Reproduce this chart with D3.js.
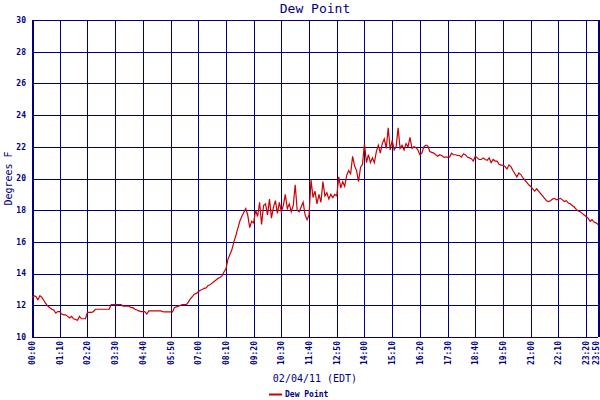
<!DOCTYPE html>
<html>
<head>
<meta charset="utf-8">
<script src="https://cdn.jsdelivr.net/npm/d3@7"></script>
<style>
  body { margin: 0; background: #fff; }
  svg { display: block; }
  text { font-family: "DejaVu Sans Mono", monospace; fill: #000080; }
</style>
</head>
<body>
<svg id="chart" width="600" height="400"></svg>
<script>
// readings every 5 minutes, starting 00:00
const stepMinutes = 5;
const dewPoint = [
  12.5, 12.6, 12.55, 12.35, 12.6, 12.5, 12.3, 12.1, 11.95, 11.85, 11.75, 11.7,
  11.5, 11.6, 11.6, 11.45, 11.4, 11.4, 11.3, 11.2, 11.3, 11.15, 11.1, 11.05,
  11.3, 11.15, 11.15, 11.15, 11.55, 11.55, 11.55, 11.6, 11.75, 11.75, 11.75, 11.75,
  11.75, 11.75, 11.75, 11.75, 12.05, 12.05, 12.05, 12.05, 12.05, 12.05, 11.95, 11.95,
  11.95, 11.95, 11.85, 11.85, 11.75, 11.7, 11.65, 11.6, 11.6, 11.6, 11.45, 11.65,
  11.65, 11.65, 11.65, 11.65, 11.65, 11.65, 11.6, 11.58, 11.58, 11.58, 11.58, 11.58,
  11.86, 11.9, 11.95, 12.0, 12.04, 12.04, 12.04, 12.2, 12.4, 12.55, 12.7, 12.75,
  12.85, 12.95, 13.0, 13.07, 13.1, 13.25, 13.3, 13.4, 13.5, 13.6, 13.7, 13.75,
  13.85, 14.1, 14.3, 14.9, 15.2, 15.5, 16.0, 16.4, 16.85, 17.3, 17.6, 17.85,
  18.1, 17.7, 16.9, 17.3, 17.2, 18.0, 17.6, 18.5, 17.1, 18.3, 18.4, 17.7,
  18.7, 17.5, 18.2, 18.6, 17.8, 18.5, 17.9, 18.3, 19.0, 18.1, 18.4, 17.9,
  18.3, 19.6, 18.0, 17.9, 18.2, 18.5, 17.7, 17.4, 17.7, 19.9, 18.8, 19.2,
  18.4, 19.0, 18.5, 19.8, 18.9, 19.1, 18.7, 19.0, 18.8, 19.0, 18.9, 20.1,
  19.4, 19.8, 19.5, 20.2, 20.5, 20.3, 21.4, 20.8, 20.5, 19.8, 20.7, 20.9,
  22.2, 21.0, 21.5, 21.0, 21.3, 21.0, 21.7, 22.1, 21.6, 22.2, 22.5, 21.9,
  23.2, 21.8, 22.4, 21.8, 22.0, 23.2, 21.9, 22.1, 21.8, 22.2, 22.0, 22.6,
  21.9, 22.0, 21.95, 21.8, 21.5, 21.6, 22.0, 22.1, 22.05, 21.7, 21.65, 21.6,
  21.5, 21.4, 21.5, 21.45, 21.35, 21.35, 21.35, 21.35, 21.6, 21.5, 21.5, 21.45,
  21.45, 21.35, 21.55, 21.5, 21.35, 21.3, 21.25, 21.1, 21.4, 21.3, 21.2, 21.2,
  21.3, 21.2, 21.15, 21.3, 21.0, 21.2, 21.1, 21.1, 20.9, 20.85, 20.85, 20.75,
  20.6, 20.85, 20.75, 20.5, 20.3, 20.1, 20.35, 20.25, 20.05, 19.9, 19.75, 19.6,
  19.5, 19.35, 19.2, 19.35, 19.2, 19.05, 18.9, 18.75, 18.6, 18.55, 18.6, 18.7,
  18.75, 18.65, 18.7, 18.75, 18.65, 18.55, 18.6, 18.45, 18.4, 18.3, 18.2, 18.05,
  17.95, 17.9, 17.8, 17.7, 17.6, 17.5, 17.3, 17.4, 17.25, 17.2, 17.1
];

const xTickLabels = ["00:00", "01:10", "02:20", "03:30", "04:40", "05:50", "07:00",
  "08:10", "09:20", "10:30", "11:40", "12:50", "14:00", "15:10", "16:20", "17:30",
  "18:40", "19:50", "21:00", "22:10", "23:20", "23:50"];
const yTicks = [10, 12, 14, 16, 18, 20, 22, 24, 26, 28, 30];

const svg = d3.select("#chart");
const plotLeft = 32, plotRight = 598, plotTop = 20, plotBottom = 337;
const navy = "#000080";

const toMinutes = (s) => +s.slice(0, 2) * 60 + +s.slice(3);
const x = d3.scaleLinear().domain([0, toMinutes("23:50")]).range([plotLeft, plotRight]);
const y = d3.scaleLinear().domain([10, 30]).range([plotBottom, plotTop]);

// title
svg.append("text")
  .attr("x", (plotLeft + plotRight) / 2)
  .attr("y", 13)
  .attr("text-anchor", "middle")
  .style("font-size", "13px")
  .text("Dew Point");

// grid
const grid = svg.append("g").attr("shape-rendering", "crispEdges").attr("stroke", navy);

grid.selectAll(".hline")
  .data(yTicks)
  .join("line")
  .attr("x1", plotLeft).attr("x2", plotRight)
  .attr("y1", (d) => Math.round(y(d)) + 0.5)
  .attr("y2", (d) => Math.round(y(d)) + 0.5)
  .attr("stroke-width", 1);

grid.selectAll(".vline")
  .data(xTickLabels)
  .join("line")
  .attr("x1", (d) => Math.round(x(toMinutes(d))) + 0.5)
  .attr("x2", (d) => Math.round(x(toMinutes(d))) + 0.5)
  .attr("y1", plotTop).attr("y2", plotBottom)
  .attr("stroke-width", (d, i) => (i === 0 || i === xTickLabels.length - 1 ? 2 : 1));

// y tick labels
svg.append("g")
  .selectAll("text")
  .data(yTicks)
  .join("text")
  .attr("x", 26)
  .attr("y", (d) => y(d))
  .attr("dy", "0.35em")
  .attr("text-anchor", "end")
  .style("font-size", "8px")
  .style("font-weight", "bold")
  .text((d) => d);

// x tick labels (rotated), last one kept inside the page
svg.append("g")
  .selectAll("text")
  .data(xTickLabels)
  .join("text")
  .attr("transform", (d) => `translate(${Math.min(x(toMinutes(d)) + 3, 599)},341) rotate(-90)`)
  .attr("text-anchor", "end")
  .style("font-size", "8px")
  .style("font-weight", "bold")
  .text((d) => d);

// axis titles
svg.append("text")
  .attr("transform", `translate(12,${(plotTop + plotBottom) / 2}) rotate(-90)`)
  .attr("text-anchor", "middle")
  .style("font-size", "10px")
  .text("Degrees F");

svg.append("text")
  .attr("x", (plotLeft + plotRight) / 2)
  .attr("y", 382)
  .attr("text-anchor", "middle")
  .style("font-size", "10px")
  .text("02/04/11 (EDT)");

// data line
const line = d3.line()
  .x((d, i) => x(i * stepMinutes))
  .y((d) => y(d));

svg.append("path")
  .datum(dewPoint)
  .attr("fill", "none")
  .attr("stroke", "#cc0000")
  .attr("stroke-width", 1.2)
  .attr("d", line);

// legend
const legend = svg.append("g");
legend.append("line")
  .attr("x1", 269).attr("x2", 282)
  .attr("y1", 394.5).attr("y2", 394.5)
  .attr("stroke", "#cc0000")
  .attr("stroke-width", 2);
legend.append("text")
  .attr("x", 285)
  .attr("y", 397)
  .style("font-size", "8px")
  .style("font-weight", "bold")
  .text("Dew Point");
</script>
</body>
</html>
